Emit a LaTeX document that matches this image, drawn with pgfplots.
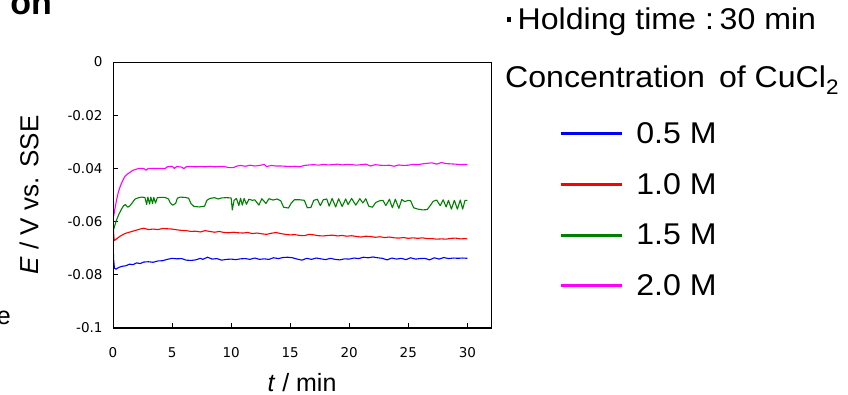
\documentclass[border=0pt]{standalone}
\usepackage{fontspec}
\setmainfont{Liberation Sans}
\newfontfamily\tickfont{DejaVu Sans}
\newfontfamily\widefont{Liberation Sans}[FakeStretch=1.07]
\usepackage{pgfplots}
\pgfplotsset{compat=1.18}
\definecolor{cblue}{RGB}{0,0,255}
\definecolor{cred}{RGB}{255,0,0}
\definecolor{cgreen}{RGB}{0,128,0}
\definecolor{cmag}{RGB}{255,0,255}
\begin{document}
\begin{tikzpicture}[x=1pt,y=1pt]
\useasboundingbox (0,0) rectangle (848,395);
\begin{axis}[
  at={(113pt,67pt)}, anchor=south west,
  width=378pt, height=266pt, scale only axis,
  xmin=0, xmax=32, ymin=-0.1, ymax=0,
  xtick={0,5,10,15,20,25,30},
  xticklabels={0,5,10,15,20,25,30},
  ytick={-0.1,-0.08,-0.06,-0.04,-0.02,0},
  yticklabels={-0.1,-0.08,-0.06,-0.04,-0.02,0},
  tick align=inside, tick pos=left, major tick length=5pt,
  tick style={black, line width=0.8pt},
  axis line style={black, line width=0.8pt},
  ticklabel style={font=\tickfont\fontsize{13.5}{15}\selectfont},
  xticklabel style={yshift=-16pt},
  yticklabel style={xshift=-7pt},
  xlabel={\textit{t} / min},
  ylabel={\textit{E} / V vs. SSE},
  every axis x label/.style={at={(axis description cs:0.5,-0.237)}, anchor=base, font=\fontsize{25}{25}\selectfont},
  every axis y label/.style={at={(axis description cs:-0.222,0.5)}, anchor=center, rotate=90, font=\fontsize{26}{26}\selectfont},
  legend cell align=left,
  legend style={at={(axis description cs:1.180,0.782)}, anchor=north west, draw=none, fill=none, font=\widefont\fontsize{30}{30}\selectfont, row sep=24.5pt, inner sep=0pt},
  legend image code/.code={\draw[line width=3pt] (0pt,0pt) -- (61pt,0pt); \path (73pt,0pt);},
  every axis plot/.append style={line width=1.1pt, line join=round},
]
\addplot[cblue] coordinates {
(0.00,-0.0669) (0.05,-0.0740) (0.12,-0.0775) (0.25,-0.0779) (0.50,-0.0772) (0.80,-0.0768)
(1.10,-0.0766) (1.40,-0.0760) (1.70,-0.0762) (2.00,-0.0755) (2.30,-0.0758) (2.60,-0.0752)
(3.00,-0.0751) (3.40,-0.0753) (3.80,-0.0748) (4.20,-0.0747) (4.60,-0.0742) (5.00,-0.0738)
(5.40,-0.0740) (5.80,-0.0739) (6.20,-0.0745) (6.60,-0.0746) (7.00,-0.0744) (7.40,-0.0738)
(7.60,-0.0742) (8.00,-0.0734) (8.40,-0.0741) (8.80,-0.0739) (9.20,-0.0745) (9.60,-0.0742)
(10.00,-0.0741) (10.40,-0.0743) (10.80,-0.0740) (11.20,-0.0739) (11.60,-0.0742) (12.00,-0.0737)
(12.40,-0.0742) (12.80,-0.0740) (13.20,-0.0742) (13.60,-0.0736) (14.00,-0.0739) (14.40,-0.0735)
(14.80,-0.0734) (15.20,-0.0736) (15.60,-0.0741) (16.00,-0.0745) (16.40,-0.0738) (16.80,-0.0742)
(17.20,-0.0737) (17.60,-0.0740) (18.00,-0.0743) (18.40,-0.0738) (18.80,-0.0742) (19.20,-0.0744)
(19.60,-0.0740) (20.00,-0.0741) (20.40,-0.0737) (20.80,-0.0739) (21.20,-0.0734) (21.60,-0.0736)
(22.00,-0.0733) (22.40,-0.0736) (22.80,-0.0738) (23.20,-0.0744) (23.60,-0.0737) (24.00,-0.0741)
(24.40,-0.0738) (24.80,-0.0743) (25.20,-0.0736) (25.60,-0.0741) (26.00,-0.0739) (26.40,-0.0738)
(26.80,-0.0744) (27.20,-0.0736) (27.60,-0.0741) (28.00,-0.0735) (28.40,-0.0739) (28.80,-0.0737)
(29.20,-0.0738) (29.60,-0.0737) (30.00,-0.0738)
};
\addlegendentry{0.5 M}
\addplot[cred] coordinates {
(0.00,-0.0690) (0.03,-0.0630) (0.10,-0.0672) (0.30,-0.0665) (0.60,-0.0655) (1.00,-0.0645)
(1.30,-0.0641) (1.60,-0.0637) (2.00,-0.0632) (2.30,-0.0628) (2.60,-0.0625) (3.00,-0.0630)
(3.40,-0.0628) (3.80,-0.0630) (4.20,-0.0626) (4.60,-0.0627) (5.00,-0.0628) (5.40,-0.0631)
(5.80,-0.0633) (6.20,-0.0634) (6.60,-0.0637) (7.00,-0.0636) (7.40,-0.0639) (7.80,-0.0634)
(8.20,-0.0637) (8.60,-0.0640) (9.00,-0.0637) (9.40,-0.0641) (9.80,-0.0642) (10.20,-0.0640)
(10.60,-0.0642) (11.00,-0.0643) (11.40,-0.0641) (11.80,-0.0645) (12.20,-0.0643) (12.60,-0.0646)
(13.00,-0.0648) (13.40,-0.0644) (13.80,-0.0641) (14.20,-0.0645) (14.60,-0.0648) (15.00,-0.0650)
(15.40,-0.0649) (15.80,-0.0652) (16.20,-0.0653) (16.60,-0.0648) (17.00,-0.0650) (17.40,-0.0653)
(17.80,-0.0654) (18.20,-0.0652) (18.60,-0.0651) (19.00,-0.0654) (19.40,-0.0652) (19.80,-0.0655)
(20.20,-0.0653) (20.60,-0.0656) (21.00,-0.0658) (21.40,-0.0655) (21.80,-0.0656) (22.20,-0.0659)
(22.60,-0.0657) (23.00,-0.0660) (23.40,-0.0658) (23.80,-0.0661) (24.20,-0.0662) (24.60,-0.0660)
(25.00,-0.0663) (25.40,-0.0661) (25.80,-0.0663) (26.20,-0.0661) (26.60,-0.0664) (27.00,-0.0664)
(27.40,-0.0666) (27.80,-0.0665) (28.20,-0.0666) (28.60,-0.0663) (29.00,-0.0662) (29.40,-0.0665)
(29.80,-0.0664) (30.00,-0.0665)
};
\addlegendentry{1.0 M}
\addplot[cgreen] coordinates {
(0.00,-0.0638) (0.15,-0.0615) (0.30,-0.0594) (0.50,-0.0572) (0.70,-0.0555) (0.90,-0.0540)
(1.05,-0.0536) (1.25,-0.0546) (1.45,-0.0540) (1.65,-0.0528) (1.85,-0.0516) (2.10,-0.0511)
(2.40,-0.0508) (2.70,-0.0509) (2.85,-0.0536) (2.95,-0.0508) (3.10,-0.0534) (3.20,-0.0508)
(3.35,-0.0532) (3.45,-0.0509) (3.60,-0.0530) (3.75,-0.0510) (4.00,-0.0509) (4.40,-0.0509)
(4.70,-0.0515) (4.85,-0.0530) (5.05,-0.0538) (5.30,-0.0532) (5.45,-0.0512) (5.70,-0.0508)
(6.10,-0.0509) (6.40,-0.0512) (6.60,-0.0532) (6.85,-0.0543) (7.30,-0.0545) (7.75,-0.0542)
(7.95,-0.0520) (8.20,-0.0513) (8.60,-0.0510) (8.90,-0.0515) (9.20,-0.0511) (9.60,-0.0510)
(10.00,-0.0511) (10.10,-0.0556) (10.25,-0.0520) (10.45,-0.0513) (10.65,-0.0540) (10.80,-0.0512)
(10.95,-0.0538) (11.10,-0.0513) (11.30,-0.0535) (11.50,-0.0516) (11.80,-0.0520) (12.00,-0.0518)
(12.35,-0.0538) (12.60,-0.0514) (12.95,-0.0532) (13.20,-0.0514) (13.55,-0.0519) (13.90,-0.0515)
(14.20,-0.0522) (14.45,-0.0546) (14.85,-0.0549) (15.10,-0.0530) (15.35,-0.0518) (15.80,-0.0518)
(16.20,-0.0520) (16.45,-0.0548) (16.75,-0.0547) (17.00,-0.0520) (17.30,-0.0516) (17.55,-0.0540)
(17.80,-0.0518) (18.10,-0.0515) (18.30,-0.0542) (18.55,-0.0513) (18.85,-0.0545) (19.10,-0.0514)
(19.40,-0.0543) (19.70,-0.0515) (19.90,-0.0536) (20.20,-0.0513) (20.55,-0.0538) (20.90,-0.0514)
(21.15,-0.0530) (21.40,-0.0514) (21.65,-0.0542) (21.95,-0.0546) (22.25,-0.0528) (22.55,-0.0522)
(22.85,-0.0520) (23.10,-0.0540) (23.40,-0.0516) (23.65,-0.0548) (23.90,-0.0516) (24.20,-0.0550)
(24.45,-0.0517) (24.70,-0.0525) (25.00,-0.0520) (25.20,-0.0522) (25.45,-0.0548) (25.80,-0.0553)
(26.20,-0.0556) (26.60,-0.0555) (26.85,-0.0540) (27.10,-0.0524) (27.40,-0.0519) (27.70,-0.0540)
(27.95,-0.0518) (28.20,-0.0545) (28.40,-0.0520) (28.65,-0.0553) (28.90,-0.0520) (29.15,-0.0553)
(29.40,-0.0519) (29.60,-0.0553) (29.80,-0.0520) (30.00,-0.0520)
};
\addlegendentry{1.5 M}
\addplot[cmag] coordinates {
(0.00,-0.0594) (0.15,-0.0555) (0.30,-0.0519) (0.45,-0.0490) (0.60,-0.0469) (0.80,-0.0448)
(1.00,-0.0431) (1.20,-0.0422) (1.40,-0.0416) (1.65,-0.0408) (1.90,-0.0404) (2.20,-0.0400)
(2.60,-0.0400) (2.80,-0.0407) (3.00,-0.0400) (3.50,-0.0400) (4.00,-0.0400) (4.40,-0.0401)
(4.60,-0.0394) (5.00,-0.0392) (5.20,-0.0400) (5.40,-0.0393) (5.80,-0.0395) (6.00,-0.0401)
(6.20,-0.0394) (6.60,-0.0393) (7.00,-0.0394) (7.40,-0.0393) (7.80,-0.0394) (8.20,-0.0392)
(8.60,-0.0394) (9.00,-0.0393) (9.40,-0.0393) (9.80,-0.0397) (10.20,-0.0397) (10.50,-0.0391)
(10.80,-0.0389) (11.20,-0.0392) (11.60,-0.0388) (12.00,-0.0391) (12.40,-0.0389) (12.80,-0.0385)
(13.00,-0.0393) (13.40,-0.0389) (13.80,-0.0391) (14.20,-0.0391) (14.60,-0.0392) (15.00,-0.0393)
(15.40,-0.0392) (15.80,-0.0394) (16.20,-0.0389) (16.60,-0.0387) (17.00,-0.0386) (17.40,-0.0388)
(17.80,-0.0385) (18.20,-0.0387) (18.60,-0.0386) (19.00,-0.0384) (19.40,-0.0387) (19.80,-0.0385)
(20.20,-0.0386) (20.60,-0.0388) (21.00,-0.0386) (21.40,-0.0384) (21.80,-0.0391) (22.20,-0.0386)
(22.60,-0.0388) (23.00,-0.0389) (23.40,-0.0388) (23.80,-0.0392) (24.20,-0.0387) (24.60,-0.0389)
(25.00,-0.0388) (25.40,-0.0385) (25.80,-0.0386) (26.20,-0.0383) (26.60,-0.0381) (27.00,-0.0379)
(27.40,-0.0384) (27.80,-0.0378) (28.20,-0.0382) (28.60,-0.0383) (29.00,-0.0384) (29.40,-0.0386)
(29.80,-0.0385) (30.00,-0.0386)
};
\addlegendentry{2.0 M}
\draw[black, line width=1.6pt] (rel axis cs:0,1) -- (rel axis cs:0,0) -- (rel axis cs:1,0);
\end{axis}
\node[anchor=base west, inner sep=0pt, font=\widefont\fontsize{30}{30}\selectfont] at (507,365)
  {\rule[8pt]{4pt}{4.5pt}\hspace{6.5pt}Holding time\hspace{9pt}:\hspace{5.7pt}30 min};
\node[anchor=base west, inner sep=0pt, font=\widefont\fontsize{30}{30}\selectfont] at (505,307)
  {Concentration\hspace{14pt}of CuCl\textsubscript{2}};
\node[anchor=base east, inner sep=0pt, font=\bfseries\fontsize{34}{34}\selectfont] at (52,380) {on};
\node[anchor=base east, inner sep=0pt, font=\fontsize{25}{25}\selectfont] at (11,70) {e};
\end{tikzpicture}
\end{document}
